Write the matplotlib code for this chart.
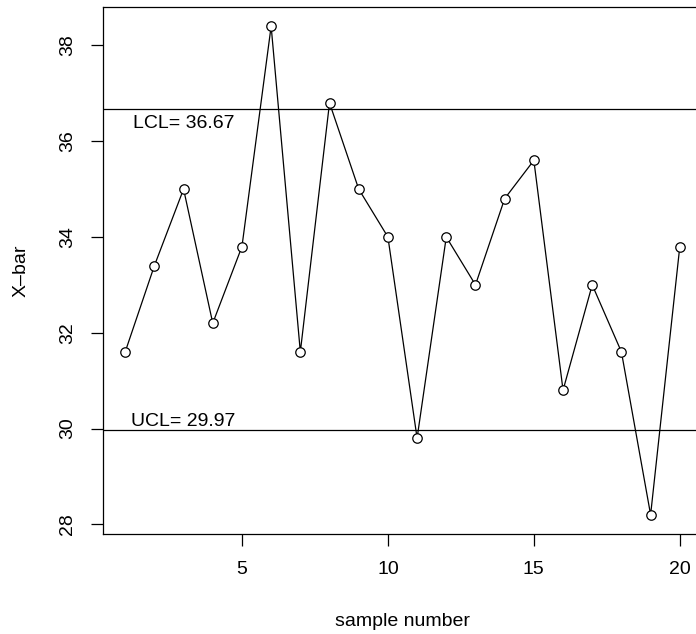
import matplotlib
matplotlib.use("Agg")
import matplotlib.pyplot as plt

plt.rcParams['font.family'] = ['Liberation Sans', 'DejaVu Sans']

# sample means for each subgroup
samples = list(range(1, 21))
xbar = [31.6, 33.4, 35.0, 32.2, 33.8, 38.4, 31.6, 36.8, 35.0, 34.0,
        29.8, 34.0, 33.0, 34.8, 35.6, 30.8, 33.0, 31.6, 28.2, 33.8]
lcl = 36.67
ucl = 29.97
xticks = [5, 10, 15, 20]
yticks = [28, 30, 32, 34, 36, 38]

fig = plt.figure(figsize=(6.96, 6.34), dpi=100)
ax = fig.add_axes([0.148, 0.1573, 0.8606, 0.8321])

ax.plot(samples, xbar, color='black', lw=0.9, marker='o', ms=6.8,
        mfc='white', mec='black', mew=0.9, zorder=3)
ax.axhline(lcl, color='black', lw=0.9)
ax.axhline(ucl, color='black', lw=0.9)

ax.annotate('LCL= %.2f' % lcl, xy=(1.26, lcl), xytext=(0, -4),
            textcoords='offset points', ha='left', va='top', fontsize=14)
ax.annotate('UCL= %.2f' % ucl, xy=(1.2, ucl), xytext=(0, 3),
            textcoords='offset points', ha='left', va='baseline', fontsize=14)

# R-style 4% padding on both axes
xr = max(samples) - min(samples)
yr = max(xbar) - min(xbar)
ax.set_xlim(min(samples) - 0.04 * xr, max(samples) + 0.04 * xr)
ax.set_ylim(min(xbar) - 0.04 * yr, max(xbar) + 0.04 * yr)

ax.set_xticks(xticks)
ax.set_yticks(yticks)
ax.tick_params(direction='out', length=8.5, width=0.9, labelsize=14, pad=11)
for lab in ax.get_yticklabels():
    lab.set_rotation(90)
    lab.set_va('center')
for s in ax.spines.values():
    s.set_linewidth(0.9)

ax.set_xlabel('sample number', fontsize=14, labelpad=25)
ax.set_ylabel('X\u2013bar', fontsize=14, labelpad=21)

fig.savefig('out.png', dpi=100)
